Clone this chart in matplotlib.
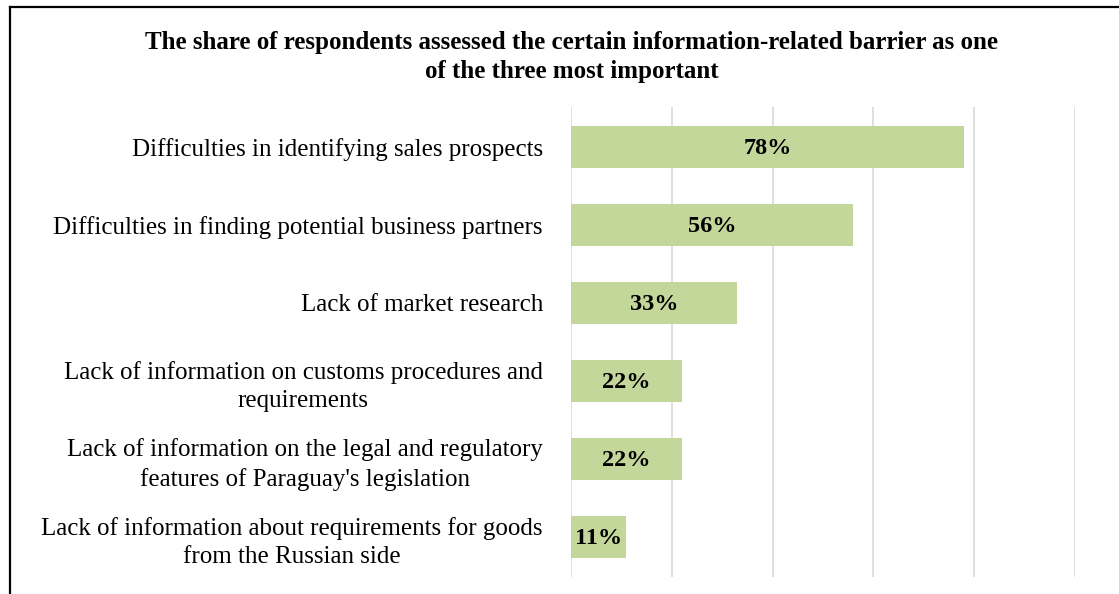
import matplotlib
matplotlib.use("Agg")
import matplotlib.pyplot as plt
from matplotlib.lines import Line2D

# ── data ──────────────────────────────────────────────────────────────────────
categories = [
    "Difficulties in identifying sales prospects",
    "Difficulties in finding potential business partners",
    "Lack of market research",
    "Lack of information on customs procedures and\nrequirements",
    "Lack of information on the legal and regulatory\nfeatures of Paraguay's legislation",
    "Lack of information about requirements for goods\nfrom the Russian side",
]
shares = [78, 56, 33, 22, 22, 11]
x_ticks = [0, 20, 40, 60, 80, 100]

TITLE = ("The share of respondents assessed the certain information-related barrier as one\n"
         "of the three most important")

plt.rcParams["font.family"] = ["Liberation Serif", "DejaVu Serif"]

fig = plt.figure(figsize=(11.19, 5.94), dpi=100)
ax = fig.add_axes([0.510, 0.029, 0.451, 0.791])

ypos = list(range(len(categories)))
ax.barh(ypos, shares, height=0.54, color="#c4d79b", zorder=2)
for y, v in zip(ypos, shares):
    ax.text(v / 2, y + 0.02, f"{v}%", ha="center", va="center",
            fontsize=17.5, fontweight="bold", color="black", zorder=3)

ax.set_xlim(0, 100)
ax.set_ylim(len(categories) - 0.49, -0.51)
ax.set_xticks(x_ticks)
ax.set_xticklabels([])
ax.tick_params(axis="x", length=0)
ax.grid(axis="x", color="#d9d9d9", linewidth=1.2, zorder=0)
ax.set_yticks(ypos)
ax.set_yticklabels(categories, fontsize=18, multialignment="center", linespacing=1.35)
ax.tick_params(axis="y", length=0, pad=20)
for s in ax.spines.values():
    s.set_visible(False)

fig.text(0.511, 0.904, TITLE, ha="center", va="center", fontsize=18,
         fontweight="bold", linespacing=1.35)

# outer frame (left and top edges visible)
fig.add_artist(Line2D([0.0085, 0.0085], [0, 0.988], transform=fig.transFigure,
                      color="black", linewidth=1.6))
fig.add_artist(Line2D([0.0085, 1.0], [0.988, 0.988], transform=fig.transFigure,
                      color="black", linewidth=1.6))

fig.savefig("out.png", dpi=100)
